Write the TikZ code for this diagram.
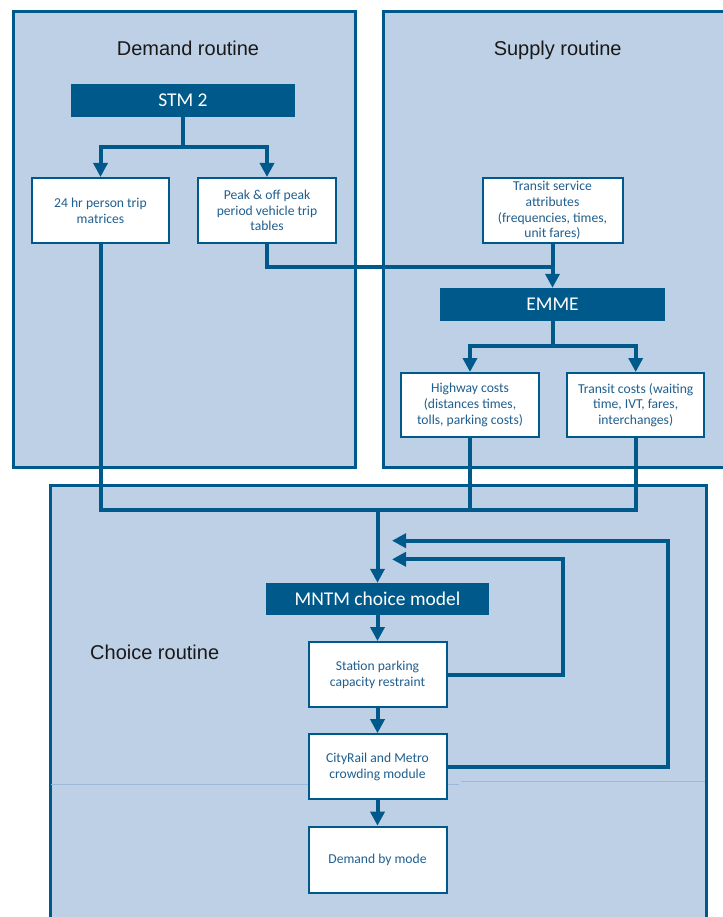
\documentclass[tikz,border=0pt]{standalone}
\usepackage{fontspec}
\setmainfont{Carlito}
\newfontfamily\titlefont{Liberation Sans}
\usetikzlibrary{arrows.meta}
\definecolor{dkblue}{HTML}{00598B}
\definecolor{ltblue}{HTML}{BED0E6}
\definecolor{txtblue}{HTML}{1F5F8F}
\definecolor{faintblue}{HTML}{9DB9DA}
\tikzset{
 container/.style={draw=dkblue, fill=ltblue, line width=3pt},
 darkbox/.style={fill=dkblue, text=white, minimum height=33pt, inner sep=0pt, font=\fontsize{19.5}{22}\selectfont},
 whitebox/.style={draw=dkblue, fill=white, line width=2pt, text=txtblue, align=center, minimum width=138pt, minimum height=65pt, inner sep=0pt, font=\fontsize{13.6}{15.8}\selectfont},
 conn/.style={draw=dkblue, line width=4pt},
 arr/.style={conn, -{Triangle[length=14pt, width=14pt]}},
 title/.style={font=\titlefont\fontsize{20}{24}\selectfont, text=black!90, inner sep=0pt},
 faint/.style={draw=faintblue, line width=0.8pt},
}
\begin{document}
\begin{tikzpicture}[x=1pt,y=-1pt]
\useasboundingbox (0,0) rectangle (722,917);
\fill[white] (0,0) rectangle (722,917);
% containers
\draw[container] (13,12) rectangle (355,467);
\draw[container] (383,12) rectangle (745,467);
\draw[container] (50,485) rectangle (706,940);
\draw[faint] (51,784.3) -- (459,784.3);
\draw[faint] (461,781) -- (704.5,781);
% titles
\node[title, anchor=base] (tdem) at (188,56) {Demand routine};
\node[title, anchor=base] (tsup) at (557.7,56) {Supply routine};
\node[title, anchor=base west] (tcho) at (90,659.5) {Choice routine};
% nodes
\node[darkbox, minimum width=224pt] (stm) at (183,100.5) {STM 2};
\node[whitebox, minimum width=137pt] (p24) at (100.5,210.5) {24 hr person trip\\matrices};
\node[whitebox] (peak) at (267,210.5) {Peak \& off peak\\period vehicle trip\\tables};
\node[whitebox, minimum width=140pt] (tsa) at (552.5,210.5) {Transit service\\attributes\\(frequencies, times,\\unit fares)};
\node[darkbox, minimum width=225pt] (emme) at (552.5,304.5) {EMME};
\node[whitebox, minimum height=64pt] (hwy) at (470,405) {Highway costs\\(distances times,\\tolls, parking costs)};
\node[whitebox, minimum width=137pt, minimum height=64pt] (tc) at (635.7,405) {Transit costs (waiting\\time, IVT, fares,\\interchanges)};
\node[darkbox, minimum width=223pt, minimum height=32pt] (mntm) at (377.5,599) {MNTM choice model};
\node[whitebox] (stat) at (377.5,674.5) {Station parking\\capacity restraint};
\node[whitebox] (crowd) at (377.5,766.7) {CityRail and Metro\\crowding module};
\node[whitebox, minimum height=66pt] (dbm) at (377.5,859.7) {Demand by mode};
% junction coordinates
\coordinate (s1) at (183,147);
\coordinate (jS) at (552.5,267);
\coordinate (e1) at (552.5,346);
\coordinate (jB) at (377.5,509.5);
\coordinate (fb1) at (392,540.7);
\coordinate (fb2) at (392,559.3);
% connectors
\draw[conn] (stm.south) -- (s1);
\draw[arr] (s1) -| (p24.north);
\draw[arr] (s1) -| (peak.north);
\draw[conn] (peak.south) |- (jS);
\draw[arr] (tsa.south) -- (emme.north);
\draw[conn] (emme.south) -- (e1);
\draw[arr] (e1) -| (hwy.north);
\draw[arr] (e1) -| (tc.north);
\draw[conn] (p24.south) |- (tc.south |- jB) -- (tc.south);
\draw[conn] (hwy.south) -- (hwy.south |- jB);
\draw[arr] (jB) -- (mntm.north);
\draw[arr] (mntm.south) -- (stat.north);
\draw[arr] (stat.south) -- (crowd.north);
\draw[arr] (crowd.south) -- (dbm.north);
\draw[arr] (crowd.east) -- ++(220,0) |- (fb1);
\draw[arr] (stat.east) -- ++(115,0) |- (fb2);
\end{tikzpicture}
\end{document}
